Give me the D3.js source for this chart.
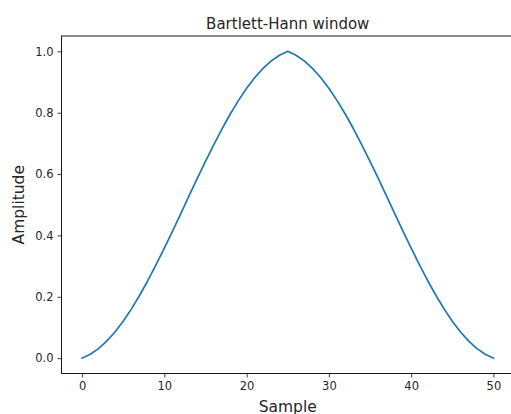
<!DOCTYPE html>
<html><head><meta charset="utf-8">
<script src="https://cdn.jsdelivr.net/npm/d3@7"></script>
<style>body{margin:0;background:#fff;} svg{display:block;font-family:"DejaVu Sans",sans-serif;}</style>
</head><body>
<script>
const samples = d3.range(51);
const halfValues = [0.0000,0.0126,0.0311,0.0555,0.0854,0.1206,0.1606,0.2050,0.2532,0.3046,0.3586,0.4144,0.4713,0.5287,0.5856,0.6414,0.6954,0.7468,0.7950,0.8394,0.8794,0.9146,0.9445,0.9689,0.9874,1.0000];
const amplitude = [0.0000,0.0126,0.0311,0.0555,0.0854,0.1206,0.1606,0.2050,0.2532,0.3046,0.3586,0.4144,0.4713,0.5287,0.5856,0.6414,0.6954,0.7468,0.7950,0.8394,0.8794,0.9146,0.9445,0.9689,0.9874,1.0000,
  0.9874,0.9689,0.9445,0.9146,0.8794,0.8394,0.7950,0.7468,0.6954,0.6414,0.5856,0.5287,0.4713,0.4144,0.3586,0.3046,0.2532,0.2050,0.1606,0.1206,0.0854,0.0555,0.0311,0.0126,0.0000];
const xTicks = [0,10,20,30,40,50];
const yTicks = [0.0,0.2,0.4,0.6,0.8,1.0];

const W = 511, H = 414;
const L = 61.5, R = 514, T = 36, B = 373.5;
const svg = d3.select("body").append("svg").attr("width", W).attr("height", H);
const x = d3.scaleLinear().domain([-2.5, 52.5]).range([L, R]);
const y = d3.scaleLinear().domain([-0.05, 1.05]).range([B, T]);

svg.append("path").datum(amplitude)
  .attr("fill","none").attr("stroke","#1f77b4").attr("stroke-width",1.7)
  .attr("stroke-linejoin","round").attr("stroke-linecap","square")
  .attr("d", d3.line().x((d,i)=>x(samples[i])).y(d=>y(d)));

const xa = svg.append("g").attr("transform",`translate(0,${B})`)
  .call(d3.axisBottom(x).tickValues(xTicks).tickFormat(d3.format("d")).tickSize(4).tickPadding(4).tickSizeOuter(0));
const ya = svg.append("g").attr("transform",`translate(${L},0)`)
  .call(d3.axisLeft(y).tickValues(yTicks).tickFormat(d3.format(".1f")).tickSize(4).tickPadding(4).tickSizeOuter(0));
[xa, ya].forEach(g=>{
  g.select(".domain").remove();
  g.selectAll("text").attr("font-size","11.5px").attr("fill","#262626").attr("font-family","DejaVu Sans");
  g.selectAll("line").attr("stroke","#262626").attr("stroke-width",0.9);
});
svg.append("rect").attr("x",L).attr("y",T).attr("width",R-L).attr("height",B-T)
  .attr("fill","none").attr("stroke","#000").attr("stroke-width",0.9);

svg.append("text").attr("x",(L+R)/2).attr("y",28.5).attr("text-anchor","middle")
  .attr("font-size","15px").attr("fill","#262626").text("Bartlett-Hann window");
svg.append("text").attr("x",(L+R)/2).attr("y",411.5).attr("text-anchor","middle")
  .attr("font-size","15.5px").attr("fill","#262626").text("Sample");
svg.append("text").attr("transform",`translate(24,${(T+B)/2}) rotate(-90)`).attr("text-anchor","middle")
  .attr("font-size","15.5px").attr("fill","#262626").text("Amplitude");
</script>
</body></html>
